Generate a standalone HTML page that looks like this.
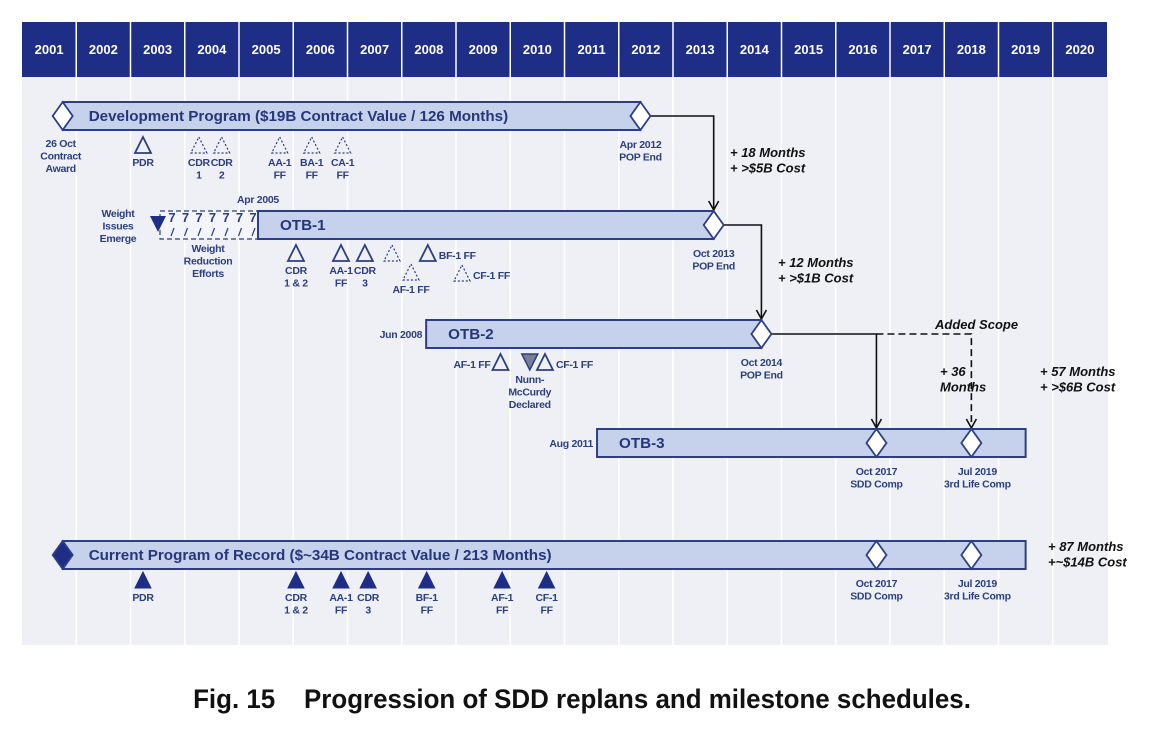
<!DOCTYPE html>
<html><head><meta charset="utf-8">
<style>
html,body{margin:0;padding:0;background:#fff;}
body{width:1154px;height:752px;overflow:hidden;position:relative;}
svg{display:block;font-family:"Liberation Sans",sans-serif;}
.cap{position:absolute;left:0;top:684px;width:1164px;text-align:center;font-family:"Liberation Sans",sans-serif;font-weight:bold;font-size:27px;color:#111;transform:scaleX(0.96);transform-origin:582px 0;}
</style></head>
<body>
<svg id="chart" width="1154" height="752" xmlns="http://www.w3.org/2000/svg"></svg>
<div class="cap">Fig. 15&nbsp;&nbsp;&nbsp; Progression of SDD replans and milestone schedules.</div>
<script>
const years = [2001,2002,2003,2004,2005,2006,2007,2008,2009,2010,2011,2012,2013,2014,2015,2016,2017,2018,2019,2020];
const barNames = ["Development Program ($19B Contract Value / 126 Months)","OTB-1","OTB-2","OTB-3","Current Program of Record ($~34B Contract Value / 213 Months)"];
const barStarts = [2001.75,2005.35,2008.45,2011.6,2001.75];
const barEnds = [2012.4,2013.75,2014.63,2019.5,2019.5];
const barRows = [116,225,334,443,555];
const startLabels = ["","Apr 2005","Jun 2008","Aug 2011",""];
const msNames = ["PDR","CDR\n1","CDR\n2","AA-1\nFF","BA-1\nFF","CA-1\nFF",
 "CDR\n1 & 2","AA-1\nFF","CDR\n3","","BF-1 FF","AF-1 FF","CF-1 FF",
 "AF-1 FF","Nunn-\nMcCurdy\nDeclared","CF-1 FF",
 "PDR","CDR\n1 & 2","AA-1\nFF","CDR\n3","BF-1\nFF","AF-1\nFF","CF-1\nFF"];
const msDates = [2003.23,2004.26,2004.68,2005.75,2006.34,2006.91,
 2006.05,2006.88,2007.32,2007.82,2008.48,2008.17,2009.11,
 2009.82,2010.36,2010.64,
 2003.23,2006.05,2006.88,2007.38,2008.46,2009.85,2010.67];
const msY = [145,145,145,145,145,145,253,253,253,253,253,272,273,362,362,362,580,580,580,580,580,580,580];
const msStyle = ["o","d","d","d","d","d","o","o","o","d","oR","d","dR","oL","down","oR","f","f","f","f","f","f","f"];

const svg=document.getElementById('chart');
const NS="http://www.w3.org/2000/svg";
const X0=22, CW=54.25;
function xs(y){return X0+(y-2001)*CW;}
function mk(tag,attrs,parent){const e=document.createElementNS(NS,tag);for(const k in attrs)e.setAttribute(k,attrs[k]);(parent||svg).appendChild(e);return e;}
function txt(str,x,y,opt,parent){const t=mk('text',Object.assign({x:x,y:y,'font-size':10.5,'font-weight':'bold',fill:'#2b3f7e','text-anchor':'middle','letter-spacing':'-0.3'},opt||{}),parent);
 const lines=str.split('\n');lines.forEach((l,i)=>{const ts=mk('tspan',{x:x,dy:i?'1.2em':'0'},t);ts.textContent=l;});return t;}
const NAVY="#1e2e86", TXT="#2b3f7e";

const panel=mk('rect',{x:22,y:77,width:1086,height:568,fill:'#eef0f6'});


years.forEach((yr,i)=>{
 const x=xs(yr);
 const h=mk('rect',{x:x,y:22,width:CW,height:55,fill:NAVY});
 
 
 if(i>0){mk('line',{x1:x,y1:22,x2:x,y2:77,stroke:'#ffffff','stroke-width':1.5});
  mk('line',{x1:x,y1:77,x2:x,y2:645,stroke:'#ffffff','stroke-width':1.5});}
 const t=txt(String(yr),x+CW/2,54,{fill:'#fff','font-size':13,'letter-spacing':'0'});
 
 
});

const wr=mk('rect',{x:160,y:211,width:100,height:28,fill:'#f4f5fa',stroke:'#2b3f7e','stroke-width':1.2,'stroke-dasharray':'5,3'});


for(let i=0;i<7;i++){const x=172+i*13.5;mk('text',{x:x,y:222,'font-size':13,'font-weight':'bold',fill:TXT,'text-anchor':'middle'}).textContent='7';
 mk('line',{x1:x+2,y1:228,x2:x-1,y2:236,stroke:TXT,'stroke-width':1.2});}
const wd=mk('path',{d:'M150,216 L166,216 L158,232 Z',fill:NAVY});


txt('Weight\nIssues\nEmerge',118,217,{});
txt('Weight\nReduction\nEfforts',208,252,{});

barNames.forEach((n,i)=>{
 const x1=xs(barStarts[i]),x2=xs(barEnds[i]),cy=barRows[i];
 const r=mk('rect',{x:x1,y:cy-14,width:x2-x1,height:28,fill:'#c6d1eb',stroke:'#2d3f82','stroke-width':2});
 
 
 const t=txt(n,x1+(i===0||i===4?26:22),cy+5,{'text-anchor':'start','font-size':15.2,'letter-spacing':'0',fill:'#25367a'});
 
 
 if(startLabels[i]){
  if(i===1)txt(startLabels[i],x1,203,{'text-anchor':'middle'});
  else txt(startLabels[i],x1-4,cy+4,{'text-anchor':'end'});
 }
});
function diamond(x,y,fill,name){const d=mk('path',{d:`M${x},${y-14} L${x+10},${y} L${x},${y+14} L${x-10},${y} Z`,fill:fill,stroke:'#2d3f82','stroke-width':1.8});
 
 }

const L={stroke:'#111','stroke-width':1.6,fill:'none'};
function arrowHead(x,y){mk('path',Object.assign({d:`M${x-5},${y-9} L${x},${y} L${x+5},${y-9}`},L));}
const dEnd=xs(barEnds[0]), o1=xs(barEnds[1]), o2=xs(barEnds[2]), s3=xs(2016.75), l3=xs(2018.5);
mk('path',Object.assign({d:`M${dEnd+10},116 H${o1} V210`},L)); arrowHead(o1,210);
mk('path',Object.assign({d:`M${o1+10},225 H${o2} V319`},L)); arrowHead(o2,319);
mk('path',Object.assign({d:`M${o2+10},334 H${s3} V428`},L)); arrowHead(s3,428);
mk('path',Object.assign({d:`M${s3},334 H${l3} V428`,'stroke-dasharray':'7,4'},L)); arrowHead(l3,428);

diamond(xs(2001.75),116,'#ffffff','contract-award-diamond');
txt('26 Oct\nContract\nAward',xs(2001.75)-2,147,{});
diamond(dEnd,116,'#ffffff','dev-pop-end-diamond');
txt('Apr 2012\nPOP End',dEnd,148,{});
diamond(o1,225,'#ffffff','otb1-pop-end-diamond');
txt('Oct 2013\nPOP End',o1,257,{});
diamond(o2,334,'#ffffff','otb2-pop-end-diamond');
txt('Oct 2014\nPOP End',o2,366,{});
diamond(s3,443,'#ffffff','otb3-sdd-diamond');
diamond(l3,443,'#ffffff','otb3-life-diamond');
txt('Oct 2017\nSDD Comp',s3,475,{});
txt('Jul 2019\n3rd Life Comp',l3+6,475,{});
diamond(xs(2001.75),555,NAVY,'current-start-diamond');
diamond(s3,555,'#ffffff','current-sdd-diamond');
diamond(l3,555,'#ffffff','current-life-diamond');
txt('Oct 2017\nSDD Comp',s3,587,{});
txt('Jul 2019\n3rd Life Comp',l3+6,587,{});

msNames.forEach((n,i)=>{
 const x=xs(msDates[i]),y=msY[i],s=msStyle[i];
 let d=`M${x},${y-8} L${x+8},${y+8} L${x-8},${y+8} Z`;
 let a={d:d,fill:'none',stroke:'#2b3f7e','stroke-width':1.8};
 if(s[0]==='d')a={d:d,fill:'none',stroke:'#2b3f7e','stroke-width':1.2,'stroke-dasharray':'2,2'};
 if(s==='f')a={d:d,fill:NAVY,stroke:NAVY,'stroke-width':1};
 if(s==='down')a={d:`M${x-8},${y-8} L${x+8},${y-8} L${x},${y+8} Z`,fill:'#7a7f99',stroke:'#2b3f7e','stroke-width':1.5};
 const m=mk('path',a);
 
 
 if(!n)return;
 if(s==='oR'||s==='dR')txt(n,x+11,y+6,{'text-anchor':'start'});
 else if(s==='oL')txt(n,x-10,y+6,{'text-anchor':'end'});
 else txt(n,x,y+21,{});
});

const I={'font-size':13,'font-weight':'bold','font-style':'italic',fill:'#111','text-anchor':'start','letter-spacing':'0'};
txt('+ 18 Months\n+ >$5B Cost',730,157,I);
txt('+ 12 Months\n+ >$1B Cost',778,267,I);
txt('Added Scope',935,329,I);
txt('+ 36\nMonths',940,376,I);
txt('+ 57 Months\n+ >$6B Cost',1040,376,I);
txt('+ 87 Months\n+~$14B Cost',1048,551,I);
</script>
</body></html>
